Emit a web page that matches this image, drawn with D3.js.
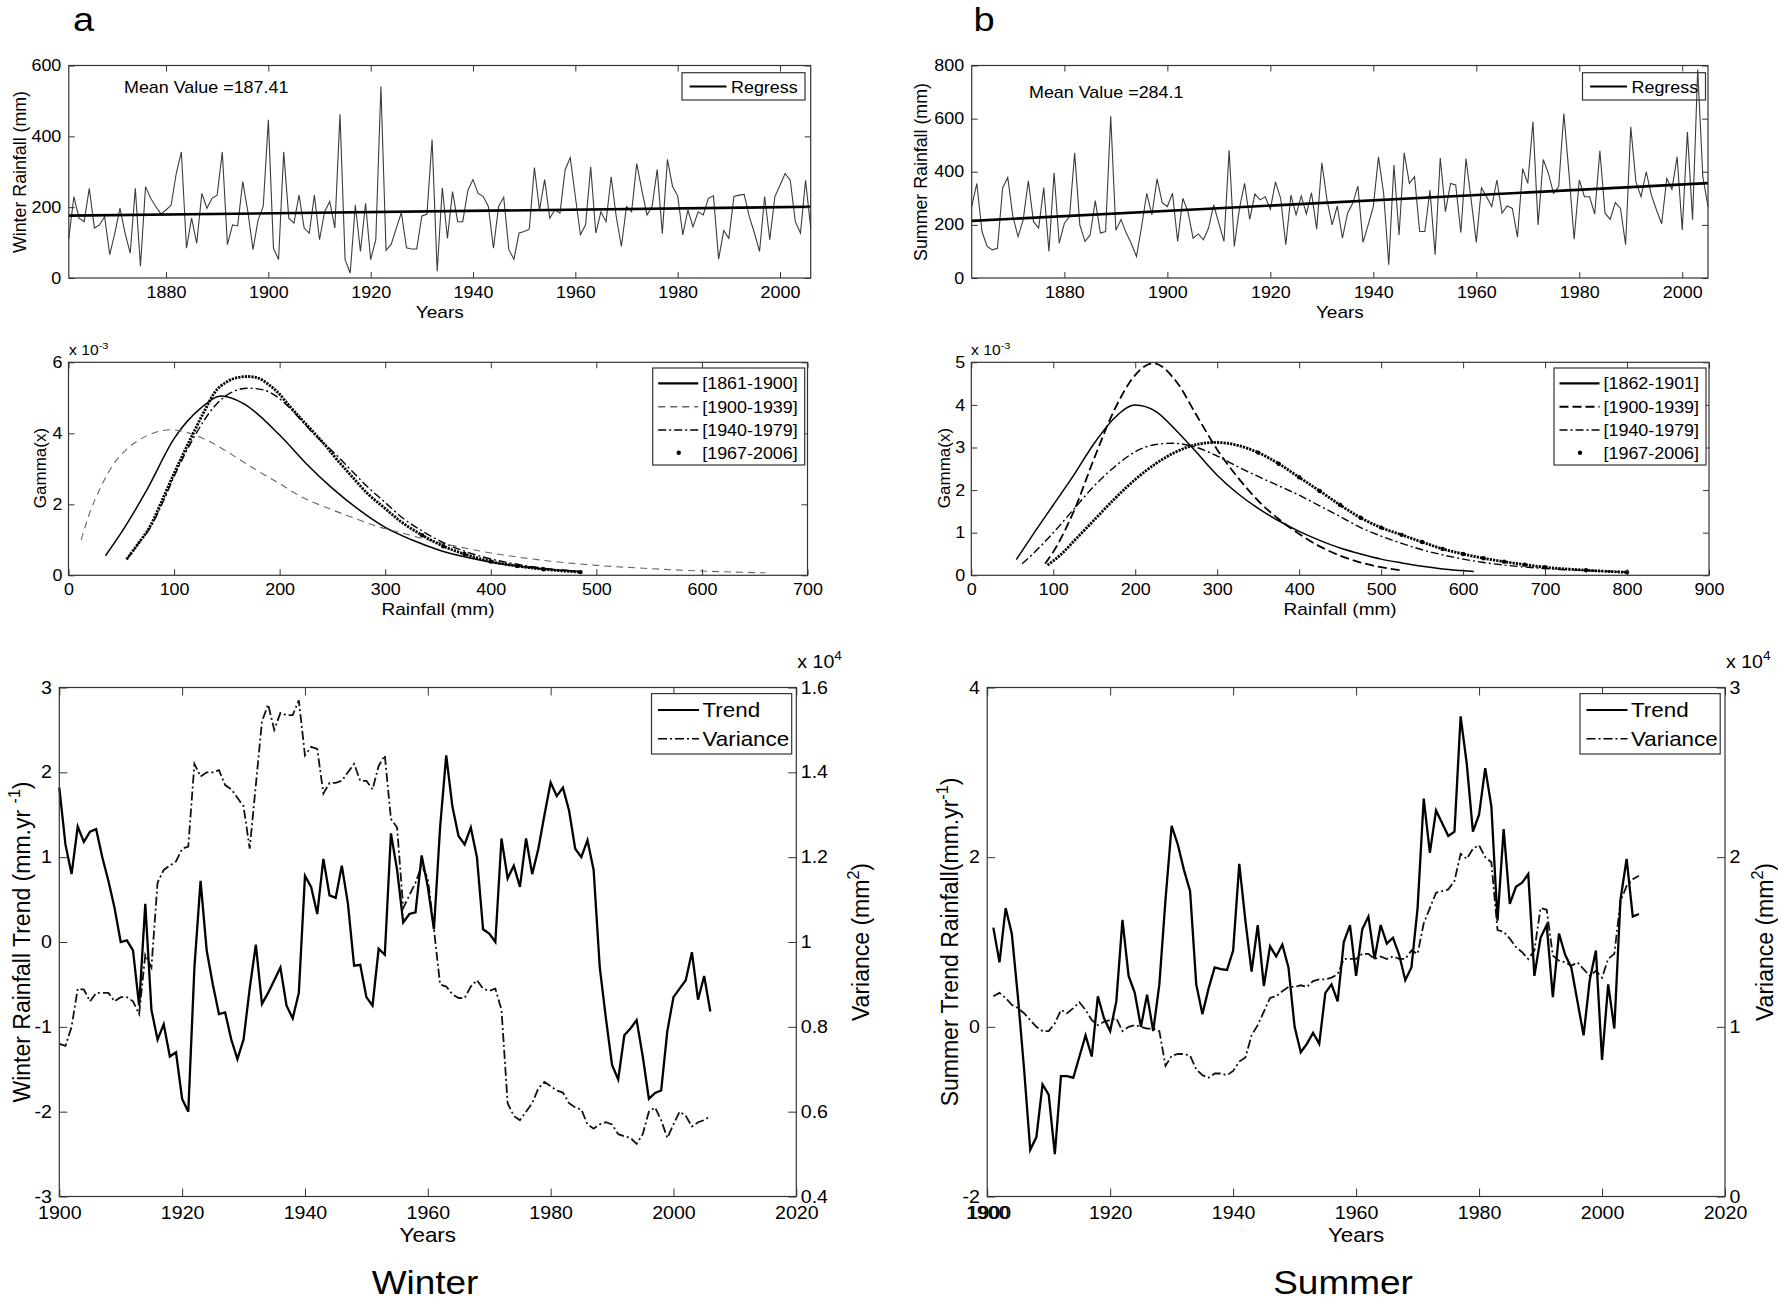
<!DOCTYPE html>
<html><head><meta charset="utf-8">
<script src="https://cdn.jsdelivr.net/npm/d3@7/dist/d3.min.js"></script>
<style>
body{margin:0;background:#fff;}
svg{display:block;background:#fff;}
text{font-family:"Liberation Sans",Arial,Helvetica,sans-serif;fill:#000;}
</style></head>
<body>
<svg id="chart" width="1778" height="1302"></svg>
<script>
// ================= DATA =================
// Top row: seasonal rainfall (mm), one value per year
const winterStartYear = 1861;
const winterRain = [
 112,230,169,159,253,141,150,173,66,127,
 197,127,70,253,33,258,225,202,181,192,
 206,295,356,84,169,98,239,197,225,234,
 356,94,150,147,272,187,80,164,202,447,
 84,52,356,169,155,234,141,127,234,108,
 187,216,141,462,52,14,206,75,211,52,
 108,541,78,95,140,185,85,82,82,175,
 180,391,19,255,112,244,159,159,248,278,
 239,230,202,84,202,228,80,53,127,131,
 138,312,192,278,169,192,183,305,340,230,
 122,150,314,127,187,159,286,173,89,202,
 187,323,248,178,202,306,125,335,258,232,
 122,192,145,187,178,225,232,53,134,112,
 230,234,236,173,127,75,230,108,230,262,
 295,276,159,127,276,141];
const summerStartYear = 1862;
const summerRain = [
 269,356,175,119,106,112,338,379,231,
 156,219,366,212,188,340,100,396,131,206,
 231,471,200,138,162,291,169,175,609,180,
 220,170,130,81,194,319,238,373,284,269,
 319,138,300,250,150,166,144,188,275,206,
 138,481,119,262,356,221,316,294,306,259,
 362,300,125,312,238,309,241,321,184,434,
 294,200,271,150,244,281,346,134,200,269,
 456,319,50,425,162,471,356,381,175,175,
 331,88,452,250,356,350,171,450,294,134,
 340,306,269,369,244,271,262,154,412,356,
 588,200,446,394,319,344,619,394,146,369,
 306,306,241,479,244,221,284,262,125,569,
 362,306,400,312,256,204,375,334,456,181,
 550,219,785,380,270];
const winterRegress = [[1861,176],[2006,201]];
const summerRegress = [[1862,215],[2005,357]];
const winterMeanText = "Mean Value =187.41";
const summerMeanText = "Mean Value =284.1";

// Middle row: fitted gamma densities (x: rainfall mm, y: density x 1e-3)
const winterPeriods = ["[1861-1900]","[1900-1939]","[1940-1979]","[1967-2006]"];
const summerPeriods = ["[1862-1901]","[1900-1939]","[1940-1979]","[1967-2006]"];
const winterGamma1 = [[35,0.55],[50,1.2],[75,2.45],[100,3.85],[125,4.7],[145,5.05],[165,4.85],[200,3.95],[225,3.15],[250,2.45],[275,1.85],[300,1.35],[325,1.0],[350,0.72],[375,0.52],[400,0.37],[425,0.26],[450,0.18],[485,0.11]];
const winterGamma2 = [[12,1.0],[20,1.75],[30,2.45],[42,3.1],[55,3.55],[69,3.85],[85,4.05],[97,4.1],[115,4.0],[130,3.82],[145,3.58],[160,3.3],[176,3.0],[200,2.58],[220,2.22],[245,1.9],[267,1.65],[290,1.4],[315,1.2],[340,1.0],[370,0.8],[400,0.63],[450,0.42],[500,0.28],[550,0.19],[600,0.12],[660,0.07]];
const winterGamma3 = [[55,0.45],[65,0.85],[78,1.37],[90,2.1],[100,2.78],[110,3.4],[120,3.95],[138,4.75],[153,5.13],[170,5.27],[185,5.22],[195,5.08],[210,4.7],[220,4.38],[235,3.9],[252,3.44],[268,2.95],[283,2.5],[300,2.05],[315,1.65],[335,1.25],[355,0.92],[375,0.68],[400,0.46],[425,0.31],[450,0.2],[480,0.12]];
const winterGamma4 = [[55,0.45],[65,0.85],[78,1.42],[90,2.2],[100,2.87],[110,3.5],[119,4.05],[130,4.7],[138,5.13],[150,5.45],[160,5.57],[170,5.6],[180,5.55],[188,5.41],[200,5.1],[207,4.85],[220,4.42],[233,4.0],[245,3.6],[252,3.34],[268,2.8],[283,2.31],[300,1.88],[315,1.51],[335,1.13],[355,0.82],[375,0.6],[400,0.39],[425,0.26],[450,0.17],[485,0.09]];
const summerGamma1 = [[55,0.37],[75,0.95],[100,1.65],[125,2.35],[150,3.1],[175,3.7],[200,4.0],[225,3.85],[250,3.4],[275,2.88],[300,2.35],[325,1.92],[350,1.57],[375,1.28],[400,1.03],[425,0.82],[450,0.64],[475,0.5],[500,0.38],[525,0.29],[550,0.21],[575,0.15],[613,0.09]];
const summerGamma2 = [[90,0.27],[100,0.55],[125,1.5],[150,2.75],[175,3.9],[200,4.7],[222,4.98],[250,4.55],[275,3.75],[300,2.95],[325,2.3],[350,1.75],[375,1.32],[400,0.97],[425,0.68],[450,0.46],[475,0.3],[500,0.19],[523,0.12]];
const summerGamma3 = [[62,0.27],[75,0.5],[100,1.0],[125,1.55],[150,2.1],[175,2.55],[200,2.9],[225,3.07],[245,3.1],[275,3.0],[300,2.8],[325,2.55],[350,2.32],[375,2.1],[400,1.88],[425,1.63],[450,1.38],[475,1.12],[500,0.92],[525,0.75],[550,0.6],[575,0.48],[600,0.38],[625,0.3],[650,0.24],[700,0.16],[750,0.11],[800,0.08]];
const summerGamma4 = [[93,0.24],[110,0.5],[125,0.8],[150,1.3],[175,1.8],[200,2.25],[225,2.62],[250,2.9],[275,3.07],[298,3.12],[325,3.05],[350,2.88],[375,2.62],[400,2.3],[425,1.98],[450,1.65],[475,1.35],[500,1.12],[525,0.95],[550,0.78],[575,0.62],[600,0.5],[625,0.4],[650,0.32],[675,0.25],[700,0.19],[750,0.12],[800,0.07]];

// Bottom row: running trend (mm/yr) and variance (x 1e4 mm^2)
const winterTrendStart = 1900;
const winterTrend = [
 1.82,1.15,0.8,1.36,1.18,1.3,1.33,1.0,0.72,0.4,
 0.0,0.02,-0.1,-0.75,0.45,-0.8,-1.15,-0.97,-1.35,-1.3,
 -1.85,-2.0,-0.3,0.72,-0.1,-0.5,-0.85,-0.83,-1.15,-1.38,
 -1.15,-0.55,-0.03,-0.73,-0.6,-0.45,-0.3,-0.75,-0.9,-0.6,
 0.78,0.65,0.33,0.98,0.55,0.52,0.9,0.45,-0.28,-0.27,
 -0.65,-0.75,-0.08,-0.15,1.28,0.85,0.23,0.33,0.35,1.02,
 0.65,0.15,1.35,2.2,1.6,1.25,1.15,1.35,1.0,0.15,
 0.1,0.0,1.22,0.75,0.9,0.65,1.22,0.8,1.1,1.5,
 1.88,1.72,1.82,1.55,1.1,1.0,1.2,0.85,-0.3,-0.9,
 -1.45,-1.62,-1.1,-1.02,-0.92,-1.35,-1.85,-1.78,-1.75,-1.05,
 -0.65,-0.55,-0.45,-0.12,-0.68,-0.4,-0.82];
const winterVariance = [
 0.76,0.755,0.8,0.89,0.888,0.86,0.88,0.88,0.88,0.86,
 0.87,0.87,0.86,0.83,0.97,0.94,1.14,1.17,1.18,1.19,
 1.22,1.225,1.42,1.39,1.4,1.4,1.405,1.37,1.36,1.34,
 1.32,1.22,1.37,1.52,1.56,1.5,1.54,1.535,1.535,1.57,
 1.44,1.46,1.455,1.35,1.375,1.375,1.38,1.4,1.42,1.38,
 1.38,1.36,1.415,1.44,1.29,1.27,1.08,1.11,1.14,1.18,
 1.15,1.03,0.9,0.895,0.877,0.868,0.868,0.895,0.91,0.89,
 0.885,0.89,0.84,0.62,0.59,0.58,0.6,0.62,0.655,0.67,
 0.66,0.65,0.645,0.62,0.61,0.605,0.57,0.56,0.57,0.575,
 0.57,0.547,0.542,0.538,0.524,0.547,0.6,0.61,0.58,0.538,
 0.57,0.6,0.59,0.565,0.575,0.58,0.59];
const summerTrendStart = 1901;
const summerTrend = [
 1.17,0.76,1.4,1.1,0.35,-0.5,-1.45,-1.3,-0.68,-0.8,
 -1.5,-0.58,-0.58,-0.6,-0.35,-0.1,-0.35,0.36,0.1,-0.05,
 0.3,1.26,0.6,0.4,0.0,0.38,-0.05,0.5,1.5,2.37,
 2.15,1.85,1.6,0.5,0.15,0.45,0.7,0.68,0.67,0.9,
 1.92,1.25,0.65,1.2,0.48,0.95,0.83,0.97,0.7,0.0,
 -0.3,-0.2,-0.07,-0.2,0.4,0.5,0.3,1.0,1.2,0.6,
 1.15,1.3,0.8,1.2,0.98,1.05,0.85,0.55,0.7,1.4,
 2.69,2.05,2.55,2.4,2.25,2.3,3.66,3.1,2.3,2.5,
 3.05,2.6,1.25,2.33,1.45,1.65,1.7,1.8,0.6,1.05,
 1.2,0.35,1.1,0.85,0.7,0.3,-0.1,0.55,0.9,-0.39,
 0.5,-0.02,1.5,1.98,1.3,1.33];
const summerVariance = [
 1.18,1.2,1.17,1.13,1.11,1.08,1.04,1.0,0.975,0.975,
 1.02,1.1,1.08,1.11,1.145,1.1,1.04,1.01,1.03,1.04,
 1.05,0.975,1.0,1.01,1.0,0.99,0.99,0.975,0.77,0.83,
 0.84,0.84,0.83,0.75,0.715,0.7,0.725,0.725,0.715,0.74,
 0.795,0.82,0.95,1.01,1.09,1.17,1.18,1.21,1.235,1.235,
 1.245,1.235,1.27,1.28,1.28,1.29,1.31,1.4,1.4,1.4,
 1.43,1.43,1.4,1.415,1.4,1.415,1.4,1.4,1.45,1.43,
 1.61,1.7,1.79,1.8,1.81,1.86,2.02,1.99,2.05,2.07,
 2.0,1.97,1.57,1.56,1.52,1.47,1.44,1.4,1.45,1.7,
 1.69,1.42,1.39,1.38,1.36,1.38,1.34,1.3,1.33,1.29,
 1.4,1.43,1.74,1.83,1.87,1.89];

// Tick values
const rainYearTicks = [1880,1900,1920,1940,1960,1980,2000];
const winterRainTicks = [0,200,400,600];
const summerRainTicks = [0,200,400,600,800];
const winterGammaXTicks = [0,100,200,300,400,500,600,700];
const summerGammaXTicks = [0,100,200,300,400,500,600,700,800,900];
const winterGammaYTicks = [0,2,4,6];
const summerGammaYTicks = [0,1,2,3,4,5];
const trendYearTicks = [1900,1920,1940,1960,1980,2000,2020];
const winterTrendTicks = [-3,-2,-1,0,1,2,3];
const winterVarTicks = [0.4,0.6,0.8,1,1.2,1.4,1.6];
const summerTrendTicks = [-2,0,2,4];
const summerVarTicks = [0,1,2,3];

// ================= DRAWING =================
const svg = d3.select("#chart");
const SX = 1.12;
const AX = "#333";

function label(x, y, size, anchor, rot) {
  return svg.append("text")
    .attr("transform", rot ? `translate(${x},${y}) rotate(${rot})` : `translate(${x},${y}) scale(${SX},1)`)
    .attr("text-anchor", anchor || "start")
    .style("font-size", size + "px");
}
function withSup(t, before, sup, after, size) {
  t.append("tspan").text(before);
  t.append("tspan").attr("dy", -size * 0.45).style("font-size", (size * 0.7) + "px").text(sup);
  if (after) t.append("tspan").attr("dy", size * 0.45).text(after);
  return t;
}
function styleAxis(g, fs, isLeft, pad) {
  g.select(".domain").remove();
  g.selectAll(".tick line").attr("stroke", AX).attr("stroke-width", 1);
  g.selectAll(".tick text").style("font-size", fs + "px").attr("fill", "#000")
    .attr("transform", `scale(${SX},1)`);
  if (isLeft) g.selectAll(".tick text").attr("x", -pad / SX);
}
function frame(x, y, o) {
  const [x0, x1] = x.range(), [yb, yt] = y.range();
  const g = svg.append("g");
  const fmt = o.xFmt || (d => d);
  g.append("g").attr("transform", `translate(0,${yb})`)
    .call(d3.axisBottom(x).tickValues(o.xt).tickSize(-o.tl).tickPadding(o.xpad).tickFormat(fmt))
    .call(s => styleAxis(s, o.fs));
  g.append("g").attr("transform", `translate(0,${yt})`)
    .call(d3.axisTop(x).tickValues(o.xt).tickSize(-o.tl).tickFormat(""))
    .call(s => styleAxis(s, o.fs));
  g.append("g").attr("transform", `translate(${x0},0)`)
    .call(d3.axisLeft(y).tickValues(o.yt).tickSize(-o.tl).tickPadding(o.ypad).tickFormat(o.yFmt || (d => d)))
    .call(s => styleAxis(s, o.fs, true, o.ypad));
  if (o.mirrorY) {
    g.append("g").attr("transform", `translate(${x1},0)`)
      .call(d3.axisRight(y).tickValues(o.yt).tickSize(-o.tl).tickFormat(""))
      .call(s => styleAxis(s, o.fs));
  }
  g.append("rect").attr("x", x0).attr("y", yt).attr("width", x1 - x0).attr("height", yb - yt)
    .attr("fill", "none").attr("stroke", AX).attr("stroke-width", 1.2);
  return g;
}
function legendBox(x0, y0, x1, y1, fill) {
  svg.append("rect").attr("x", x0).attr("y", y0).attr("width", x1 - x0).attr("height", y1 - y0)
    .attr("fill", fill).attr("stroke", AX).attr("stroke-width", 1.2);
}

// ---------- panel labels ----------
label(83.5, 31, 34, "middle").text("a");
label(984, 31, 34, "middle").text("b");

// ---------- TOP ROW ----------
function topPanel(startYear, values, regress, yMax, yTicks, xr, meanText, meanPos, ylab, ylabX, legendX) {
  const years = values.map((v, i) => startYear + i);
  const x = d3.scaleLinear().domain([years[0], years[years.length - 1]]).range(xr);
  const y = d3.scaleLinear().domain([0, yMax]).range([278, 65.5]);
  svg.append("path").datum(values)
    .attr("d", d3.line().x((d, i) => x(years[i])).y(d => y(d)))
    .attr("fill", "none").attr("stroke", "#3c3c3c").attr("stroke-width", 1.1);
  svg.append("path").datum(regress)
    .attr("d", d3.line().x(d => x(d[0])).y(d => y(d[1])))
    .attr("fill", "none").attr("stroke", "#000").attr("stroke-width", 2.6);
  frame(x, y, {xt: rainYearTicks, yt: yTicks, tl: 6, fs: 16, xpad: 8.6, ypad: 7.5, mirrorY: true});
  label(meanPos[0], meanPos[1], 16, "start").text(meanText);
  label((xr[0] + xr[1]) / 2, 318, 17, "middle").text("Years");
  label(ylabX, 172, 17.8, "middle", -90).text(ylab);
  legendBox(legendX, 72.7, legendX + 123, 100, "none");
  svg.append("line").attr("x1", legendX + 7.6).attr("x2", legendX + 44.5).attr("y1", 86.5).attr("y2", 86.5)
    .attr("stroke", "#000").attr("stroke-width", 2);
  label(legendX + 49, 92.5, 16, "start").text("Regress");
}
topPanel(winterStartYear, winterRain, winterRegress, 600, winterRainTicks, [68.8, 810.7],
  winterMeanText, [124, 93.3], "Winter Rainfall (mm)", 26, 682);
topPanel(summerStartYear, summerRain, summerRegress, 800, summerRainTicks, [971.7, 1708],
  summerMeanText, [1029, 97.5], "Summer Rainfall (mm)", 927, 1582.5);

// ---------- MIDDLE ROW ----------
const gammaStyles = {
  winter: [
    {stroke: "#000", w: 1.5, dash: null},
    {stroke: "#666", w: 1.1, dash: "7,5"},
    {stroke: "#000", w: 1.4, dash: "8,3,2,3"},
    {stroke: "#000", w: 2.8, dash: "2.2,1.1", dots: true}
  ],
  summer: [
    {stroke: "#000", w: 1.5, dash: null},
    {stroke: "#000", w: 1.8, dash: "9,4"},
    {stroke: "#000", w: 1.4, dash: "8,3,2,3"},
    {stroke: "#000", w: 2.8, dash: "2.2,1.1", dots: true}
  ]
};
function gammaPanel(series, periods, styles, xMax, xTicks, yMax, yTicks, xr, ylabX, expX, legX) {
  const x = d3.scaleLinear().domain([0, xMax]).range(xr);
  const y = d3.scaleLinear().domain([0, yMax]).range([575.3, 362.3]);
  const line = d3.line().x(d => x(d[0])).y(d => y(d[1])).curve(d3.curveMonotoneX);
  series.forEach((s, i) => {
    const st = styles[i];
    svg.append("path").datum(s).attr("d", line).attr("fill", "none")
      .attr("stroke", st.stroke).attr("stroke-width", st.w)
      .attr("stroke-dasharray", st.dash);
    if (st.dots) {
      svg.append("g").selectAll("circle").data(s.filter(d => d[0] >= 330)).join("circle")
        .attr("cx", d => x(d[0])).attr("cy", d => y(d[1])).attr("r", 2.2).attr("fill", "#000");
    }
  });
  frame(x, y, {xt: xTicks, yt: yTicks, tl: 6, fs: 16, xpad: 8.3, ypad: 6, mirrorY: true});
  label((xr[0] + xr[1]) / 2, 615, 17, "middle").text("Rainfall (mm)");
  label(ylabX, 468, 17, "middle", -90).text("Gamma(x)");
  const e = label(expX, 355, 14, "start");
  withSup(e, "x 10", "-3", null, 14);
  // legend
  legendBox(legX, 368, legX + 152, 465, "#fff");
  const rows = [383.3, 406.7, 430, 452.7];
  periods.forEach((p, i) => {
    const st = styles[i];
    if (st.dots) {
      svg.append("circle").attr("cx", legX + 26).attr("cy", rows[i]).attr("r", 2.2).attr("fill", "#000");
    } else {
      svg.append("line").attr("x1", legX + 5.5).attr("x2", legX + 45.5).attr("y1", rows[i]).attr("y2", rows[i])
        .attr("stroke", st.stroke).attr("stroke-width", i === 0 ? 2.2 : Math.min(st.w + 0.3, 2)).attr("stroke-dasharray", st.dash);
    }
    label(legX + 49.5, rows[i] + 5.8, 16, "start").text(p);
  });
}
gammaPanel([winterGamma1, winterGamma2, winterGamma3, winterGamma4], winterPeriods, gammaStyles.winter,
  700, winterGammaXTicks, 6, winterGammaYTicks, [68.5, 807.5], 46, 69, 652.7);
gammaPanel([summerGamma1, summerGamma2, summerGamma3, summerGamma4], summerPeriods, gammaStyles.summer,
  900, summerGammaXTicks, 5, summerGammaYTicks, [971.3, 1709], 950, 971, 1554);

// ---------- BOTTOM ROW ----------
function trendPanel(start, trend, variance, yL, yLT, yR, yRT, xr, ylabParts, ylabX, rlabX, legX, title, titleX, doubled) {
  const years = trend.map((v, i) => start + i);
  const x = d3.scaleLinear().domain([1900, 2020]).range(xr);
  const y = d3.scaleLinear().domain(yL).range([1196.5, 687.5]);
  const y2 = d3.scaleLinear().domain(yR).range([1196.5, 687.5]);
  svg.append("path").datum(variance)
    .attr("d", d3.line().x((d, i) => x(years[i])).y(d => y2(d)))
    .attr("fill", "none").attr("stroke", "#111").attr("stroke-width", 1.8).attr("stroke-dasharray", "9,3,2,3");
  svg.append("path").datum(trend)
    .attr("d", d3.line().x((d, i) => x(years[i])).y(d => y(d)))
    .attr("fill", "none").attr("stroke", "#000").attr("stroke-width", 2.3);
  frame(x, y, {xt: trendYearTicks, yt: yLT, tl: 8, fs: 17.5, xpad: 10, ypad: 7.3, mirrorY: false});
  if (doubled) {
    svg.append("g").attr("transform", `translate(1.6,1196.5)`)
      .call(d3.axisBottom(x).tickValues([1900]).tickSize(0).tickPadding(10).tickFormat(d => d))
      .call(s => styleAxis(s, 17.5));
  }
  svg.append("g").attr("transform", `translate(${xr[1]},0)`)
    .call(d3.axisRight(y2).tickValues(yRT).tickSize(-8).tickPadding(4).tickFormat(d => d))
    .call(s => styleAxis(s, 17.5));
  const ex = label(xr[1] + 1, 668, 17.5, "start");
  withSup(ex, "x 10", "4", null, 17.5);
  label((xr[0] + xr[1]) / 2, 1242, 20, "middle").text("Years");
  const yl = label(ylabX, 942, 23, "middle", -90);
  withSup(yl, ylabParts[0], ylabParts[1], ylabParts[2], 23);
  const rl = label(rlabX, 942, 23, "middle", -90);
  withSup(rl, "Variance (mm", "2", ")", 23);
  // legend
  legendBox(legX, 693.6, legX + 140.2, 754, "#fff");
  svg.append("line").attr("x1", legX + 6.5).attr("x2", legX + 47.5).attr("y1", 710).attr("y2", 710)
    .attr("stroke", "#000").attr("stroke-width", 2);
  svg.append("line").attr("x1", legX + 6.5).attr("x2", legX + 47.5).attr("y1", 738.7).attr("y2", 738.7)
    .attr("stroke", "#000").attr("stroke-width", 1.6).attr("stroke-dasharray", "9,3,2,3");
  label(legX + 51, 717.3, 20, "start").text("Trend");
  label(legX + 51, 746, 20, "start").text("Variance");
  label(titleX, 1294, 33, "middle").text(title);
}
trendPanel(winterTrendStart, winterTrend, winterVariance, [-3, 3], winterTrendTicks, [0.4, 1.6], winterVarTicks,
  [59.3, 796.3], ["Winter Rainfall Trend (mm.yr ", "-1", ")"], 30, 869, 651.5, "Winter", 425, false);
trendPanel(summerTrendStart, summerTrend, summerVariance, [-2, 4], summerTrendTicks, [0, 3], summerVarTicks,
  [987.2, 1725], ["Summer Trend Rainfall(mm.yr", "-1", ")"], 958, 1773, 1580, "Summer", 1343, true);
</script>
</body></html>
